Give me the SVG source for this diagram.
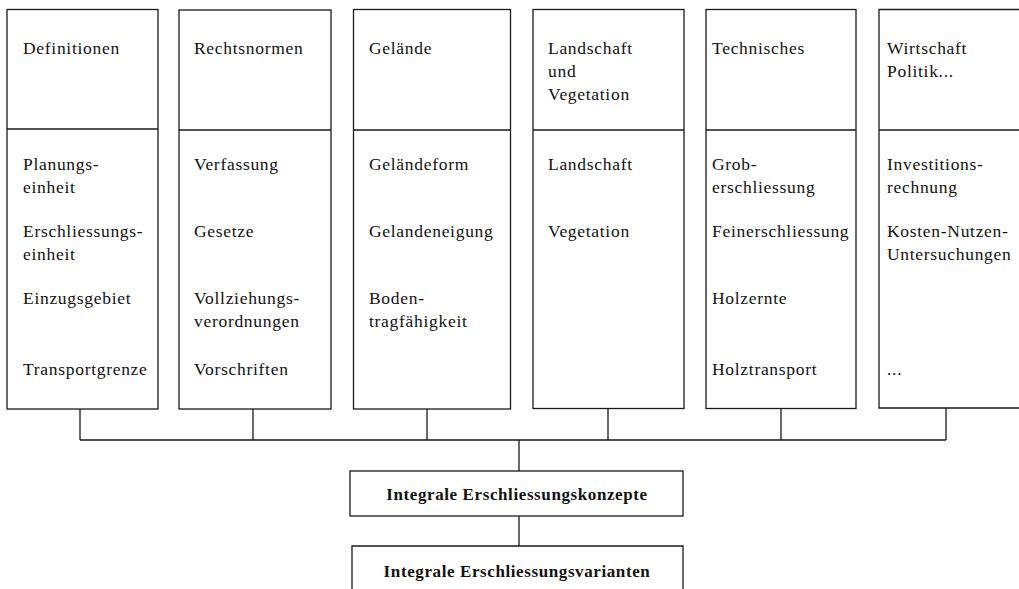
<svg xmlns="http://www.w3.org/2000/svg" width="1019" height="589" viewBox="0 0 1019 589">
<style>
.b{fill:none;stroke:#1a1a1a;stroke-width:1.3}
.t{font-family:"Liberation Serif",serif;font-size:17.5px;letter-spacing:0.7px;fill:#111}
.h{font-family:"Liberation Serif",serif;font-size:17px;font-weight:bold;letter-spacing:0.6px;fill:#111;text-anchor:middle}
</style>
<rect width="1019" height="589" fill="#fff"/>
<g id="connectors" class="b">
<path d="M80 409V440M253 409V440M427 409V440M608 409V440M781 409V440M946 408V440M80 440H946"/>
<path d="M519 440V471"/>
<path d="M519 516V546"/>
</g>
<g id="n-definitionen">
<rect class="b" x="7" y="9.5" width="151" height="399.5"/>
<path class="b" d="M7 129H158"/>
<text class="t" x="23" y="54">Definitionen</text>
<text class="t" x="23" y="170">Planungs-</text>
<text class="t" x="23" y="193">einheit</text>
<text class="t" x="23" y="237">Erschliessungs-</text>
<text class="t" x="23" y="260">einheit</text>
<text class="t" x="23" y="304">Einzugsgebiet</text>
<text class="t" x="23" y="375">Transportgrenze</text>
</g>
<g id="n-rechtsnormen">
<rect class="b" x="179" y="10" width="152" height="399"/>
<path class="b" d="M179 130H331"/>
<text class="t" x="194" y="54">Rechtsnormen</text>
<text class="t" x="194" y="170">Verfassung</text>
<text class="t" x="194" y="237">Gesetze</text>
<text class="t" x="194" y="304">Vollziehungs-</text>
<text class="t" x="194" y="327">verordnungen</text>
<text class="t" x="194" y="375">Vorschriften</text>
</g>
<g id="n-gelaende">
<rect class="b" x="353.5" y="9.5" width="157" height="399.5"/>
<path class="b" d="M353.5 130H510.5"/>
<text class="t" x="369" y="54">Gelände</text>
<text class="t" x="369" y="170">Geländeform</text>
<text class="t" x="369" y="237">Gelandeneigung</text>
<text class="t" x="369" y="304">Boden-</text>
<text class="t" x="369" y="327">tragfähigkeit</text>
</g>
<g id="n-landschaft">
<rect class="b" x="533" y="9.5" width="151" height="399"/>
<path class="b" d="M533 130H684"/>
<text class="t" x="548" y="54">Landschaft</text>
<text class="t" x="548" y="77">und</text>
<text class="t" x="548" y="100">Vegetation</text>
<text class="t" x="548" y="170">Landschaft</text>
<text class="t" x="548" y="237">Vegetation</text>
</g>
<g id="n-technisches">
<rect class="b" x="706" y="9.5" width="150" height="399"/>
<path class="b" d="M706 130H856"/>
<text class="t" x="712" y="54">Technisches</text>
<text class="t" x="712" y="170">Grob-</text>
<text class="t" x="712" y="193">erschliessung</text>
<text class="t" x="712" y="237">Feinerschliessung</text>
<text class="t" x="712" y="304">Holzernte</text>
<text class="t" x="712" y="375">Holztransport</text>
</g>
<g id="n-wirtschaft">
<path class="b" d="M1025 9.5H879V408H1025M879 130H1025"/>
<text class="t" x="887" y="54">Wirtschaft</text>
<text class="t" x="887" y="77">Politik...</text>
<text class="t" x="887" y="170">Investitions-</text>
<text class="t" x="887" y="193">rechnung</text>
<text class="t" x="887" y="237">Kosten-Nutzen-</text>
<text class="t" x="887" y="260">Untersuchungen</text>
<text class="t" x="887" y="375">...</text>
</g>
<g id="n-konzepte">
<rect class="b" x="350" y="471" width="333" height="45"/>
<text class="h" x="517" y="500">Integrale Erschliessungskonzepte</text>
</g>
<g id="n-varianten">
<path class="b" d="M352 595V546H683V595"/>
<text class="h" x="517" y="577">Integrale Erschliessungsvarianten</text>
</g>
</svg>
